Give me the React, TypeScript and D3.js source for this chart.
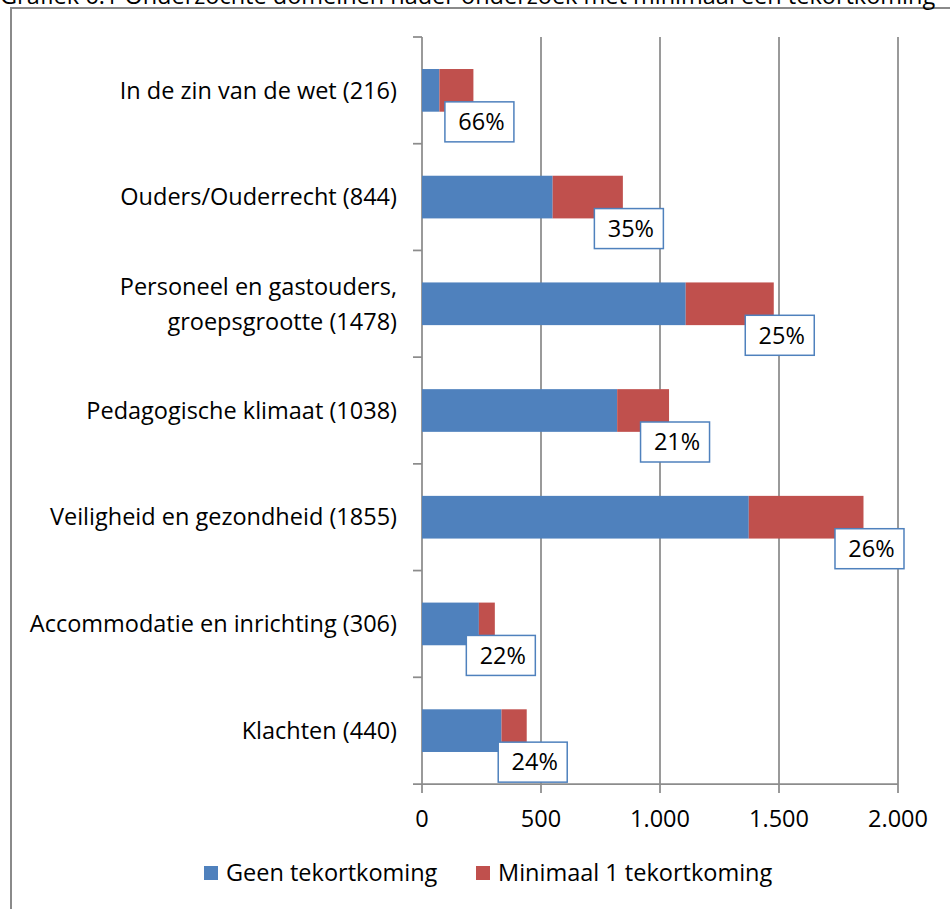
import React, { useEffect, useRef } from 'react';
import * as d3 from 'd3';

const title = 'Grafiek 6.1 Onderzochte domeinen nader onderzoek met minimaal een tekortkoming';

const categories = [
  'In de zin van de wet (216)',
  'Ouders/Ouderrecht (844)',
  'Personeel en gastouders,\ngroepsgrootte (1478)',
  'Pedagogische klimaat (1038)',
  'Veiligheid en gezondheid (1855)',
  'Accommodatie en inrichting (306)',
  'Klachten (440)',
];
const geenValues = [73, 549, 1108, 820, 1373, 239, 334];
const minimaalValues = [143, 295, 370, 218, 482, 67, 106];
const percentLabels = ['66%', '35%', '25%', '21%', '26%', '22%', '24%'];
const xTicks = [0, 500, 1000, 1500, 2000];
const seriesNames = ['Geen tekortkoming', 'Minimaal 1 tekortkoming'];

const W = 950;
const H = 909;
const FONT = '"Open Sans", Lato, sans-serif';
const FS = 23.5;
const BLUE = '#4F81BD';
const RED = '#C0504D';
const GRID = '#8c8c8c';

const App = () => {
  const svgRef = useRef<SVGSVGElement | null>(null);

  useEffect(() => {
    const svg = d3.select(svgRef.current);
    svg.selectAll('*').remove();

    const plot = { left: 422, right: 898, top: 37, bottom: 784 };
    const x = d3.scaleLinear().domain([0, 2000]).range([plot.left, plot.right]);
    const y = d3
      .scaleBand()
      .domain(categories)
      .range([plot.top, plot.bottom])
      .paddingInner(0.6)
      .paddingOuter(0.3);

    svg.append('rect').attr('width', W).attr('height', H).attr('fill', '#fff');

    // outer chart border (right/bottom edges run off the picture)
    svg
      .append('rect')
      .attr('x', 11)
      .attr('y', 8)
      .attr('width', W + 20)
      .attr('height', H + 20)
      .attr('fill', 'none')
      .attr('stroke', '#8a8a8a')
      .attr('stroke-width', 2);

    svg
      .append('text')
      .attr('x', 0)
      .attr('y', 4)
      .attr('font-family', FONT)
      .attr('font-size', FS)
      .attr('fill', '#000')
      .text(title);

    // vertical gridlines + x ticks
    svg
      .append('g')
      .selectAll('line')
      .data(xTicks)
      .join('line')
      .attr('x1', (d) => x(d))
      .attr('x2', (d) => x(d))
      .attr('y1', plot.top)
      .attr('y2', plot.bottom + 9)
      .attr('stroke', GRID)
      .attr('stroke-width', 1.75);

    // x axis line
    svg
      .append('line')
      .attr('x1', plot.left - 9)
      .attr('x2', plot.right)
      .attr('y1', plot.bottom)
      .attr('y2', plot.bottom)
      .attr('stroke', GRID)
      .attr('stroke-width', 1.75);

    // y axis tick marks at category boundaries
    const step = y.step();
    const bounds = d3.range(categories.length).map((i) => plot.top + i * step);
    svg
      .append('g')
      .selectAll('line')
      .data(bounds)
      .join('line')
      .attr('x1', plot.left - 9)
      .attr('x2', plot.left)
      .attr('y1', (d) => d)
      .attr('y2', (d) => d)
      .attr('stroke', GRID)
      .attr('stroke-width', 1.75);

    // x tick labels
    svg
      .append('g')
      .selectAll('text')
      .data(xTicks)
      .join('text')
      .attr('x', (d) => x(d))
      .attr('y', plot.bottom + 35)
      .attr('dy', '0.35em')
      .attr('text-anchor', 'middle')
      .attr('font-family', FONT)
      .attr('font-size', FS)
      .attr('fill', '#000')
      .text((d) => d3.format(',')(d).replace(/,/g, '.'));

    // category labels
    const catG = svg.append('g');
    categories.forEach((c) => {
      const lines = c.split('\n');
      const cy = (y(c) ?? 0) + y.bandwidth() / 2;
      const lh = 35;
      const t = catG
        .append('text')
        .attr('text-anchor', 'end')
        .attr('font-family', FONT)
        .attr('font-size', FS)
        .attr('fill', '#000');
      lines.forEach((ln, i) => {
        t.append('tspan')
          .attr('x', 397)
          .attr('y', cy + (i - (lines.length - 1) / 2) * lh)
          .attr('dy', '0.35em')
          .text(ln);
      });
    });

    // stacked bars
    const rows = categories.map((c, i) => ({
      cat: c,
      geen: geenValues[i],
      min: minimaalValues[i],
      pct: percentLabels[i],
    }));

    svg
      .append('g')
      .selectAll('rect')
      .data(rows)
      .join('rect')
      .attr('x', x(0))
      .attr('y', (d) => y(d.cat) ?? 0)
      .attr('width', (d) => x(d.geen) - x(0))
      .attr('height', y.bandwidth())
      .attr('fill', BLUE);

    svg
      .append('g')
      .selectAll('rect')
      .data(rows)
      .join('rect')
      .attr('x', (d) => x(d.geen))
      .attr('y', (d) => y(d.cat) ?? 0)
      .attr('width', (d) => x(d.geen + d.min) - x(d.geen))
      .attr('height', y.bandwidth())
      .attr('fill', RED);

    // percentage labels in boxes
    const boxW = 69;
    const boxH = 40;
    const lbl = svg
      .append('g')
      .selectAll('g')
      .data(rows)
      .join('g')
      .attr('transform', (d) => {
        const cx = x(d.geen + d.min) + 6;
        const top = (y(d.cat) ?? 0) + y.bandwidth() / 2 + 11.5;
        return `translate(${cx - boxW / 2},${top})`;
      });
    lbl
      .append('rect')
      .attr('width', boxW)
      .attr('height', boxH)
      .attr('fill', '#fff')
      .attr('stroke', BLUE)
      .attr('stroke-width', 1.5);
    lbl
      .append('text')
      .attr('x', boxW / 2 + 2)
      .attr('y', boxH / 2)
      .attr('dy', '0.35em')
      .attr('text-anchor', 'middle')
      .attr('font-family', FONT)
      .attr('font-size', FS)
      .attr('fill', '#000')
      .text((d) => d.pct);

    // legend
    const legendItems = [
      { name: seriesNames[0], color: BLUE, x: 204 },
      { name: seriesNames[1], color: RED, x: 476 },
    ];
    const lg = svg
      .append('g')
      .selectAll('g')
      .data(legendItems)
      .join('g')
      .attr('transform', (d) => `translate(${d.x},866)`);
    lg.append('rect').attr('width', 14).attr('height', 14).attr('fill', (d) => d.color);
    lg.append('text')
      .attr('x', 22)
      .attr('y', 7)
      .attr('dy', '0.35em')
      .attr('font-family', FONT)
      .attr('font-size', FS)
      .attr('fill', '#000')
      .text((d) => d.name);
  }, []);

  return (
    <svg
      ref={svgRef}
      width={W}
      height={H}
      style={{ position: 'absolute', left: 0, top: 0, display: 'block' }}
    />
  );
};

export default App;
